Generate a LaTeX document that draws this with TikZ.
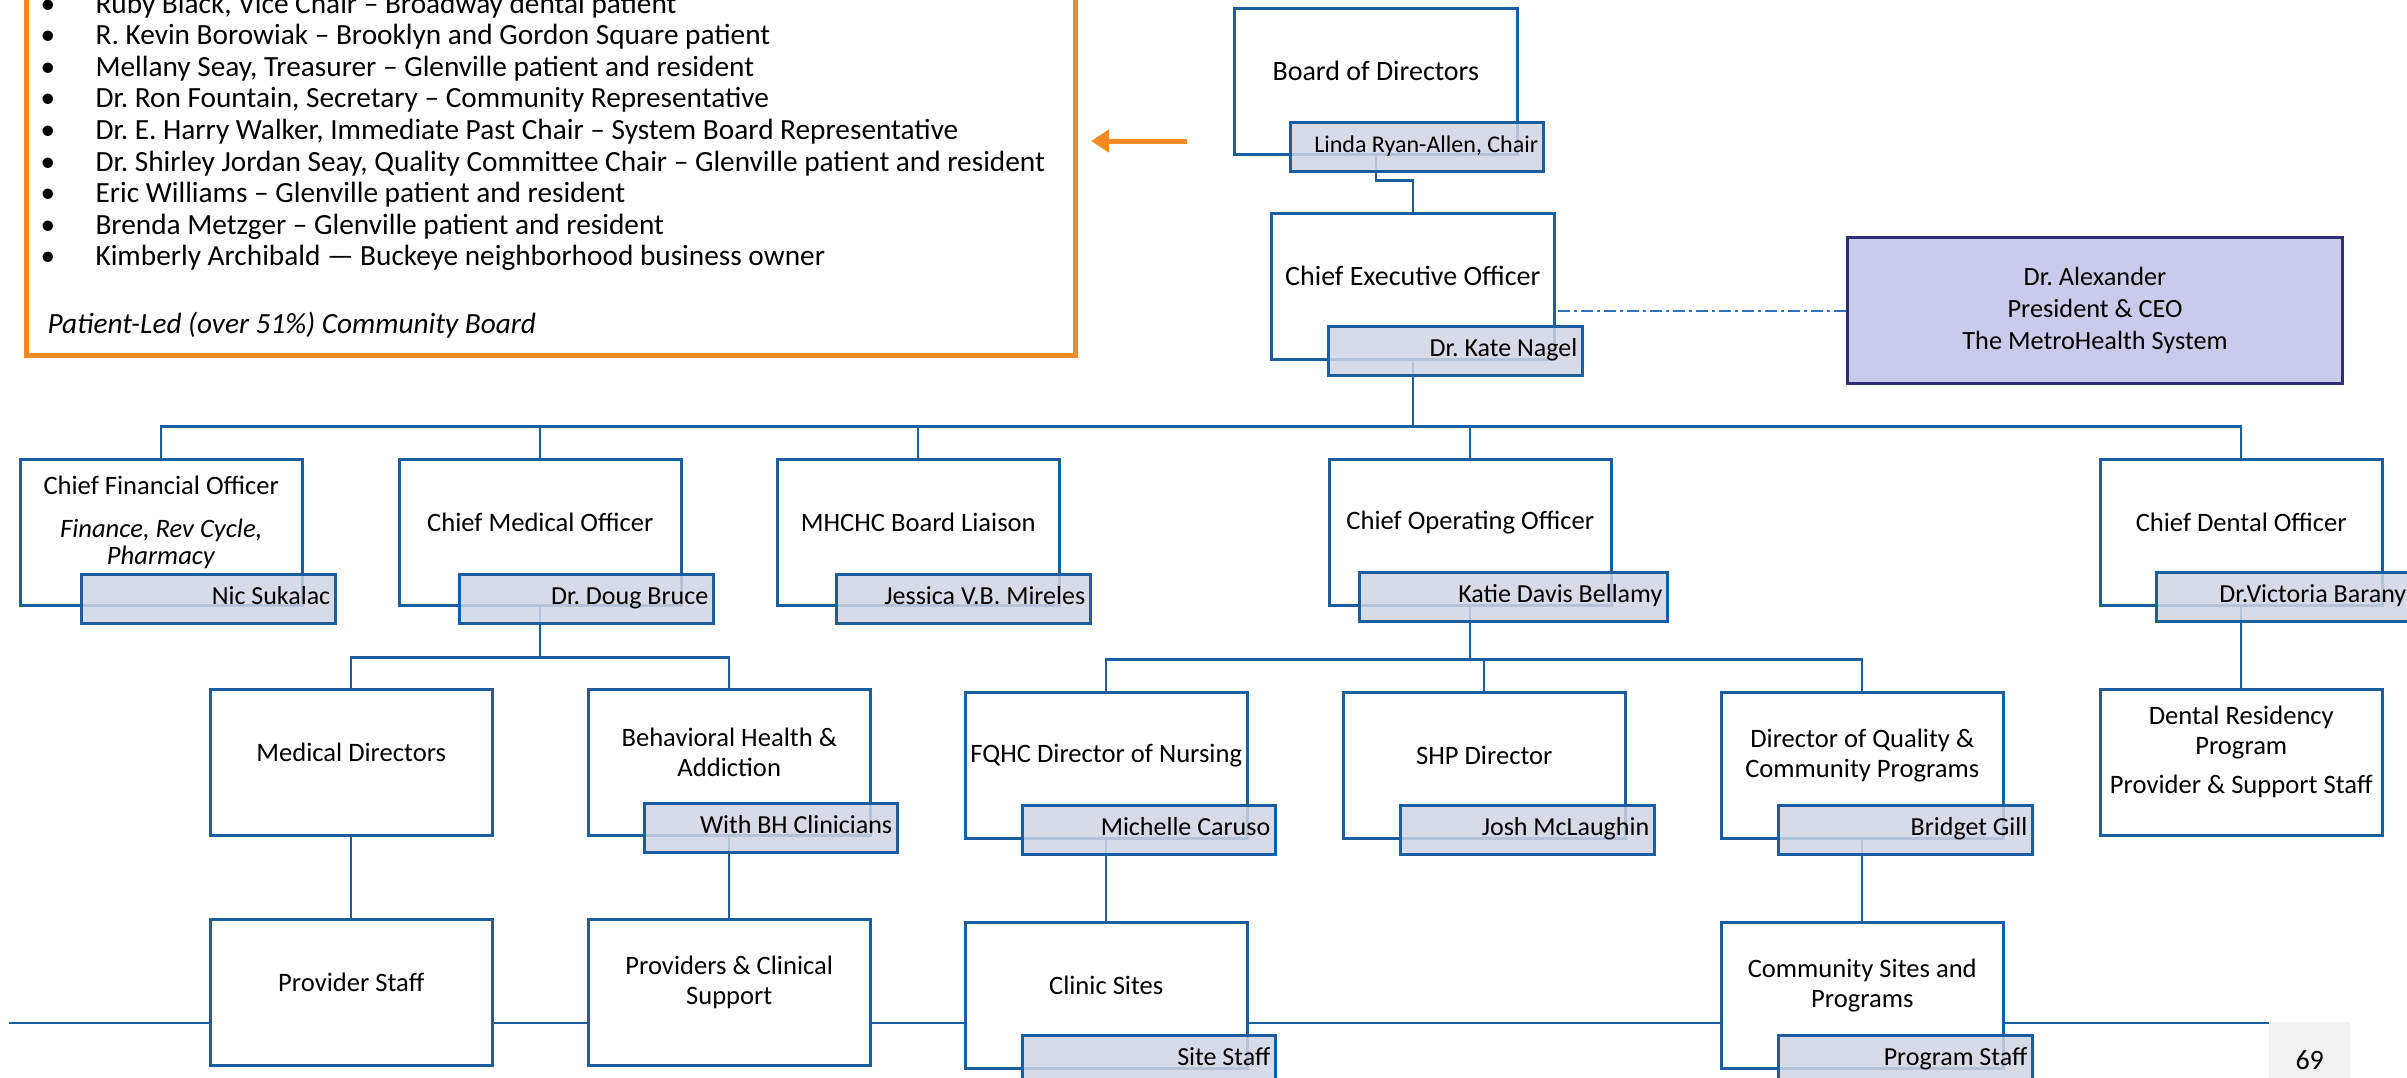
\documentclass[tikz,border=0pt]{standalone}
\usepackage{fontspec}
\setmainfont{Carlito}
\usepackage{tikz}
\usetikzlibrary{positioning}
\usetikzlibrary{arrows.meta}
\definecolor{boxblue}{HTML}{1B5E9F}
\definecolor{tagfill}{HTML}{CFD5E3}
\definecolor{sysfill}{HTML}{C9CBEA}
\definecolor{sysline}{HTML}{2E3073}
\definecolor{boardorange}{HTML}{F28A26}
\definecolor{dashblue}{HTML}{2F73C0}
\definecolor{pagegray}{HTML}{F2F2F2}
\tikzset{tips=proper}
\tikzset{%
    orgbox/.style={rectangle, draw=boxblue, line width=2.5pt, fill=white, anchor=north west, inner sep=0pt, minimum width=282pt, minimum height=146pt},
    boxtext/.style={align=center, inner sep=0pt},
    toptext/.style={boxtext, font=\fontsize{28}{32}\selectfont},
    nametag/.style={rectangle, draw=boxblue, line width=2.5pt, fill=tagfill, fill opacity=.85, text opacity=1, anchor=north west, align=flush right, inner xsep=5pt, inner ysep=0pt, minimum height=49pt, text height=17pt, text depth=5pt, font=\fontsize{26}{30}\selectfont},
    sysbox/.style={rectangle, draw=sysline, line width=3pt, fill=sysfill, anchor=north west, align=center, minimum width=495pt, minimum height=146pt, font=\fontsize{26.3}{32}\selectfont},
    listbox/.style={rectangle, draw=boardorange, line width=5pt, fill=white, anchor=south west},
    link/.style={draw=boxblue, line width=2.2pt},
    sysdash/.style={draw=dashblue, line width=2pt, dash pattern=on 12pt off 4pt on 3pt off 4pt},
    boardarrow/.style={draw=boardorange, line width=5pt, -{Triangle[length=18pt,width=22pt]}},
    pagebox/.style={rectangle, fill=pagegray, anchor=north west, minimum width=81pt, minimum height=76pt, font=\fontsize{28}{32}\selectfont}
}

\begin{document}
\frenchspacing
\begin{tikzpicture}[x=1pt,y=-1pt]
		\tikzstyle{every node}=[font=\fontsize{26.6}{30}\selectfont]
		\useasboundingbox (0,0) rectangle (2407,1077);
		\clip (0,0) rectangle (2407,1077);

		% slide footer
		\coordinate (footL) at (9,1023);
		\coordinate (footR) at (2269,1023);
		\draw[link] (footL) -- (footR);
		\node[pagebox] (pagenum) at (2269,1022) {69};

		% community board list
		\node[listbox, minimum width=1049pt, minimum height=420pt] (members) at (24,358) {};
		\foreach \who [count=\i] in {%
			{Ruby Black, Vice Chair – Broadway dental patient},
			{R. Kevin Borowiak – Brooklyn and Gordon Square patient},
			{Mellany Seay, Treasurer – Glenville patient and resident},
			{Dr. Ron Fountain, Secretary – Community Representative},
			{Dr. E. Harry Walker, Immediate Past Chair – System Board Representative},
			{Dr. Shirley Jordan Seay, Quality Committee Chair – Glenville patient and resident},
			{Eric Williams – Glenville patient and resident},
			{Brenda Metzger – Glenville patient and resident},
			{Kimberly Archibald — Buckeye neighborhood business owner}}{
			\node[anchor=base, font=\fontsize{29.3}{32}\selectfont]      (dot\i) at (48,{13+31.6*(\i-1)}) {•};
			\node[anchor=base west, font=\fontsize{29.3}{32}\selectfont] (mem\i) at (92,{13+31.6*(\i-1)}) {\who};
		}
		\node[anchor=base west, font=\fontsize{29.3}{32}\selectfont\itshape] (motto) at (44,333) {Patient-Led (over 51\%) Community Board};
		\coordinate (arrtail) at (1187,141);
		\draw[boardarrow, shorten >=13pt] (arrtail) -- (arrtail -| members.east);

		% boxes
		\node[orgbox, minimum width=283pt]  (board)     at (1233,7)    {};
		\node[orgbox, minimum width=283pt]  (ceo)       at (1270,212)  {};
		\node[sysbox]                       (system)    at (1846,236)  {Dr. Alexander\\President \& CEO\\The MetroHealth System};
		\node[orgbox]                       (cfo)       at (19,458)    {};
		\node[orgbox]                       (cmo)       at (398,458)   {};
		\node[orgbox]                       (liaison)   at (776,458)   {};
		\node[orgbox]                       (coo)       at (1328,458)  {};
		\node[orgbox]                       (cdo)       at (2099,458)  {};
		\node[orgbox]                       (meddir)    at (209,688)   {};
		\node[orgbox]                       (bh)        at (587,688)   {};
		\node[orgbox]                       (nursing)   at (964,691)   {};
		\node[orgbox]                       (shp)       at (1342,691)  {};
		\node[orgbox]                       (quality)   at (1720,691)  {};
		\node[orgbox]                       (residency) at (2099,688)  {};
		\node[orgbox]                       (provstaff) at (209,918)   {};
		\node[orgbox]                       (clinsup)   at (587,918)   {};
		\node[orgbox]                       (clinics)   at (964,921)   {};
		\node[orgbox]                       (community) at (1720,921)  {};

		% box titles
		\node[toptext] (board-t)     at ([yshift=10pt]board.center)     {Board of Directors};
		\node[toptext] (ceo-t)       at ([yshift=10pt]ceo.center)       {Chief Executive Officer};
		\node[boxtext] (cfo-t)       at ([yshift=10pt]cfo.center)       {Chief Financial Officer\\[13pt]\textit{Finance, Rev Cycle,}\\[-3pt]\textit{Pharmacy}};
		\node[boxtext] (cmo-t)       at ([yshift=10pt]cmo.center)       {Chief Medical Officer};
		\node[boxtext] (liaison-t)   at ([yshift=10pt]liaison.center)   {MHCHC Board Liaison};
		\node[boxtext] (coo-t)       at ([yshift=10pt]coo.center)       {Chief Operating Officer};
		\node[boxtext] (cdo-t)       at ([yshift=10pt]cdo.center)       {Chief Dental Officer};
		\node[boxtext] (meddir-t)    at ([yshift=10pt]meddir.center)    {Medical Directors};
		\node[boxtext] (bh-t)        at ([yshift=10pt]bh.center)        {Behavioral Health \&\\Addiction};
		\node[boxtext] (nursing-t)   at ([yshift=10pt]nursing.center)   {FQHC Director of Nursing};
		\node[boxtext] (shp-t)       at ([yshift=10pt]shp.center)       {SHP Director};
		\node[boxtext] (quality-t)   at ([yshift=10pt]quality.center)   {Director of Quality \&\\Community Programs};
		\node[boxtext] (residency-t) at ([yshift=10pt]residency.center) {Dental Residency\\Program\\[9pt]Provider \& Support Staff};
		\node[boxtext] (provstaff-t) at ([yshift=10pt]provstaff.center) {Provider Staff};
		\node[boxtext] (clinsup-t)   at ([yshift=10pt]clinsup.center)   {Providers \& Clinical\\Support};
		\node[boxtext] (clinics-t)   at ([yshift=10pt]clinics.center)   {Clinic Sites};
		\node[boxtext] (community-t) at ([yshift=10pt]community.center) {Community Sites and\\Programs};

		% reporting lines
		\draw[link] (board.south) -- ++(0,25) -| (ceo.north);
		\foreach \c in {cfo,cmo,liaison,coo,cdo}
			\draw[link] (ceo.south) -- ++(0,66) -| (\c.north);
		\foreach \c in {meddir,bh}
			\draw[link] (cmo.south) -- ++(0,51) -| (\c.north);
		\foreach \c in {nursing,shp,quality}
			\draw[link] (coo.south) -- ++(0,53) -| (\c.north);
		\draw[link] (cdo.south)     -- (residency.north);
		\draw[link] (meddir.south)  -- (provstaff.north);
		\draw[link] (bh.south)      -- (clinsup.north);
		\draw[link] (nursing.south) -- (clinics.north);
		\draw[link] (quality.south) -- (community.north);
		\draw[sysdash] (system.west) -- (system.west -| ceo.east);

		% name tags
		\node[nametag, text width=243pt, font=\fontsize{24}{28}\selectfont] (boardtag) at (1289,121) {Linda Ryan-Allen, Chair};
		\node[nametag, text width=244pt] (ceotag)       at (1327,325)  {Dr. Kate Nagel};
		\node[nametag, text width=244pt] (cfotag)       at (80,573)    {Nic Sukalac};
		\node[nametag, text width=244pt] (cmotag)       at (458,573)   {Dr. Doug Bruce};
		\node[nametag, text width=244pt] (liaisontag)   at (835,573)   {Jessica V.B. Mireles};
		\node[nametag, text width=298pt] (cootag)       at (1358,571)  {Katie Davis Bellamy};
		\node[nametag, text width=245pt] (cdotag)       at (2155,571)  {Dr.Victoria Barany};
		\node[nametag, text width=243pt] (bhtag)        at (643,802)   {With BH Clinicians};
		\node[nametag, text width=243pt] (nursingtag)   at (1021,804)  {Michelle Caruso};
		\node[nametag, text width=244pt] (shptag)       at (1399,804)  {Josh McLaughin};
		\node[nametag, text width=244pt] (qualitytag)   at (1777,804)  {Bridget Gill};
		\node[nametag, text width=243pt] (clinicstag)   at (1021,1034) {Site Staff};
		\node[nametag, text width=244pt] (communitytag) at (1777,1034) {Program Staff};
\end{tikzpicture}
\end{document}
